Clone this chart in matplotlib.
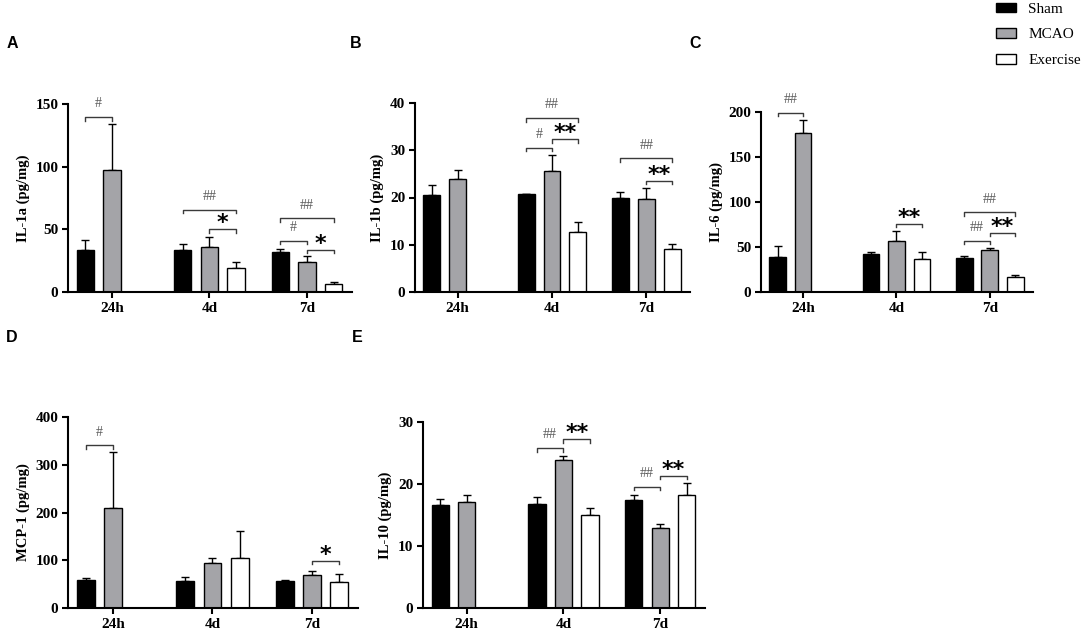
"""Citocinas por grupo (Sham / MCAO / Exercise) em 24h, 4d e 7d."""
import matplotlib

matplotlib.use("Agg")
import matplotlib.pyplot as plt
import numpy as np
from matplotlib.patches import Patch

W, H = 1084, 636

GROUPS = ["Sham", "MCAO", "Exercise"]
TIMES = ["24h", "4d", "7d"]
COLORS = ["#000000", "#a4a4a8", "#ffffff"]
NAN = np.nan

# ── Dados (media e erro superior) ───────────────────────────────────────
il1a_mean = [[33.3, 33.3, 32.3], [97.6, 36.0, 24.0], [NAN, 19.2, 6.4]]
il1a_err = [[8.0, 4.6, 2.1], [36.5, 7.5, 4.5], [NAN, 5.1, 1.6]]
il1b_mean = [[20.5, 20.7, 19.8], [24.0, 25.7, 19.75], [NAN, 12.6, 9.06]]
il1b_err = [[2.15, 0.1, 1.3], [1.9, 3.2, 2.25], [NAN, 2.3, 1.0]]
il6_mean = [[38.9, 42.6, 38.1], [176.7, 56.7, 46.3], [NAN, 36.3, 16.3]]
il6_err = [[12.1, 2.2, 1.5], [14.0, 11.1, 3.0], [NAN, 8.1, 2.6]]
mcp1_mean = [[58.7, 57.3, 56.6], [209.8, 93.7, 69.9], [NAN, 104.2, 54.5]]
mcp1_err = [[4.9, 8.4, 1.4], [116.8, 11.9, 8.4], [NAN, 58.0, 17.5]]
il10_mean = [[16.55, 16.8, 17.4], [17.1, 23.9, 12.85], [NAN, 15.0, 18.2]]
il10_err = [[1.05, 1.1, 0.9], [1.1, 0.6, 0.65], [NAN, 1.1, 1.9]]

# (tempo, barra_i, barra_j, altura, rotulo)
il1a_sig = [(0, 0, 1, 139.5, "#"), (1, 0, 2, 65.6, "##"), (1, 1, 2, 50.1, "*"),
            (2, 0, 2, 58.7, "##"), (2, 0, 1, 40.8, "#"), (2, 1, 2, 33.6, "*")]
il1b_sig = [(1, 0, 2, 36.8, "##"), (1, 0, 1, 30.5, "#"), (1, 1, 2, 32.3, "**"),
            (2, 0, 2, 28.3, "##"), (2, 1, 2, 23.5, "**")]
il6_sig = [(0, 0, 1, 199, "##"), (1, 1, 2, 76, "**"), (2, 0, 2, 88.5, "##"),
           (2, 0, 1, 57, "##"), (2, 1, 2, 65.6, "**")]
mcp1_sig = [(0, 0, 1, 340.6, "#"), (2, 1, 2, 99.3, "*")]
il10_sig = [(1, 0, 1, 25.8, "##"), (1, 1, 2, 27.2, "**"),
            (2, 0, 1, 19.55, "##"), (2, 1, 2, 21.3, "**")]

GAP = 3.65
WIDTH = 0.65
SERIF = "Liberation Serif"

fig = plt.figure(figsize=(W / 100, H / 100), dpi=100, facecolor="white")


def painel(box, mean, err, sig, ylabel, ymax, step, letra, letra_xy):
    l, r, t, b = box
    ax = fig.add_axes([l / W, 1 - b / H, (r - l) / W, (b - t) / H])
    for k in range(3):
        xs = np.arange(3) * GAP + (k - 1)
        m = np.array(mean[k], dtype=float)
        e = np.array(err[k], dtype=float)
        ok = ~np.isnan(m)
        ax.bar(xs[ok], m[ok], width=WIDTH, color=COLORS[k],
               edgecolor="black", linewidth=1.0, zorder=2)
        ax.errorbar(xs[ok], m[ok], yerr=[np.zeros(ok.sum()), e[ok]], fmt="none",
                    ecolor="black", elinewidth=1.0, capsize=3.0, capthick=1.0,
                    zorder=1)

    ax.set_xlim(-1.65, 2 * GAP + 1.69)
    ax.set_ylim(0, ymax)
    ax.set_xticks(np.arange(3) * GAP)
    ax.set_xticklabels(TIMES)
    ax.set_yticks(np.arange(0, ymax + 0.1, step))
    for lado in ("top", "right"):
        ax.spines[lado].set_visible(False)
    for lado in ("left", "bottom"):
        ax.spines[lado].set_linewidth(1.5)
    ax.tick_params(axis="both", width=1.5, length=4.5, direction="out", pad=2.5)
    for lab in ax.get_xticklabels() + ax.get_yticklabels():
        lab.set_fontfamily(SERIF)
        lab.set_fontweight("bold")
        lab.set_fontsize(11)
    ax.set_ylabel(ylabel, fontfamily=SERIF, fontweight="bold", fontsize=10.5,
                  labelpad=4)

    # colchetes de significancia
    drop = 3.5 / (b - t) * ymax
    for g, i, j, y, txt in sig:
        x0 = g * GAP + (i - 1)
        x1 = g * GAP + (j - 1)
        ax.plot([x0, x0, x1, x1], [y - drop, y, y, y - drop], color="#3a3a3a",
                lw=1.0, clip_on=False, zorder=3)
        if "*" in txt:
            ax.annotate(txt, ((x0 + x1) / 2, y), xytext=(0, 0),
                        textcoords="offset points", ha="center", va="baseline",
                        fontsize=16, fontweight="bold", family="DejaVu Sans",
                        color="black", annotation_clip=False)
        else:
            ax.annotate(txt, ((x0 + x1) / 2, y), xytext=(0, 7),
                        textcoords="offset points", ha="center", va="baseline",
                        fontsize=10, family=SERIF, color="#5a5a5a",
                        annotation_clip=False)

    fig.text(letra_xy[0] / W, 1 - letra_xy[1] / H, letra, ha="center",
             va="center", fontsize=11.5, fontweight="bold",
             family="Liberation Sans")
    return ax


painel((68, 352, 104, 292), il1a_mean, il1a_err, il1a_sig, "IL-1a (pg/mg)",
       150, 50, "A", (12, 44))
painel((415, 690, 103, 292), il1b_mean, il1b_err, il1b_sig, "IL-1b (pg/mg)",
       40, 10, "B", (356, 44))
painel((761, 1033, 112, 292), il6_mean, il6_err, il6_sig, "IL-6 (pg/mg)",
       200, 50, "C", (695, 44))
painel((68, 358, 417, 608), mcp1_mean, mcp1_err, mcp1_sig, "MCP-1 (pg/mg)",
       400, 100, "D", (12, 338))
painel((423, 705, 422, 608), il10_mean, il10_err, il10_sig, "IL-10 (pg/mg)",
       30, 10, "E", (357, 338))

handles = [Patch(facecolor=c, edgecolor="black", linewidth=1.0) for c in COLORS]
fig.legend(handles, GROUPS, loc="upper left",
           bbox_to_anchor=(996 / W, 1 - 2.5 / H), frameon=False,
           prop={"family": SERIF, "size": 11}, handlelength=1.3,
           handleheight=0.6, handletextpad=0.8, labelspacing=0.82,
           borderpad=0, borderaxespad=0)

fig.savefig("out.png", dpi=100, facecolor="white")
